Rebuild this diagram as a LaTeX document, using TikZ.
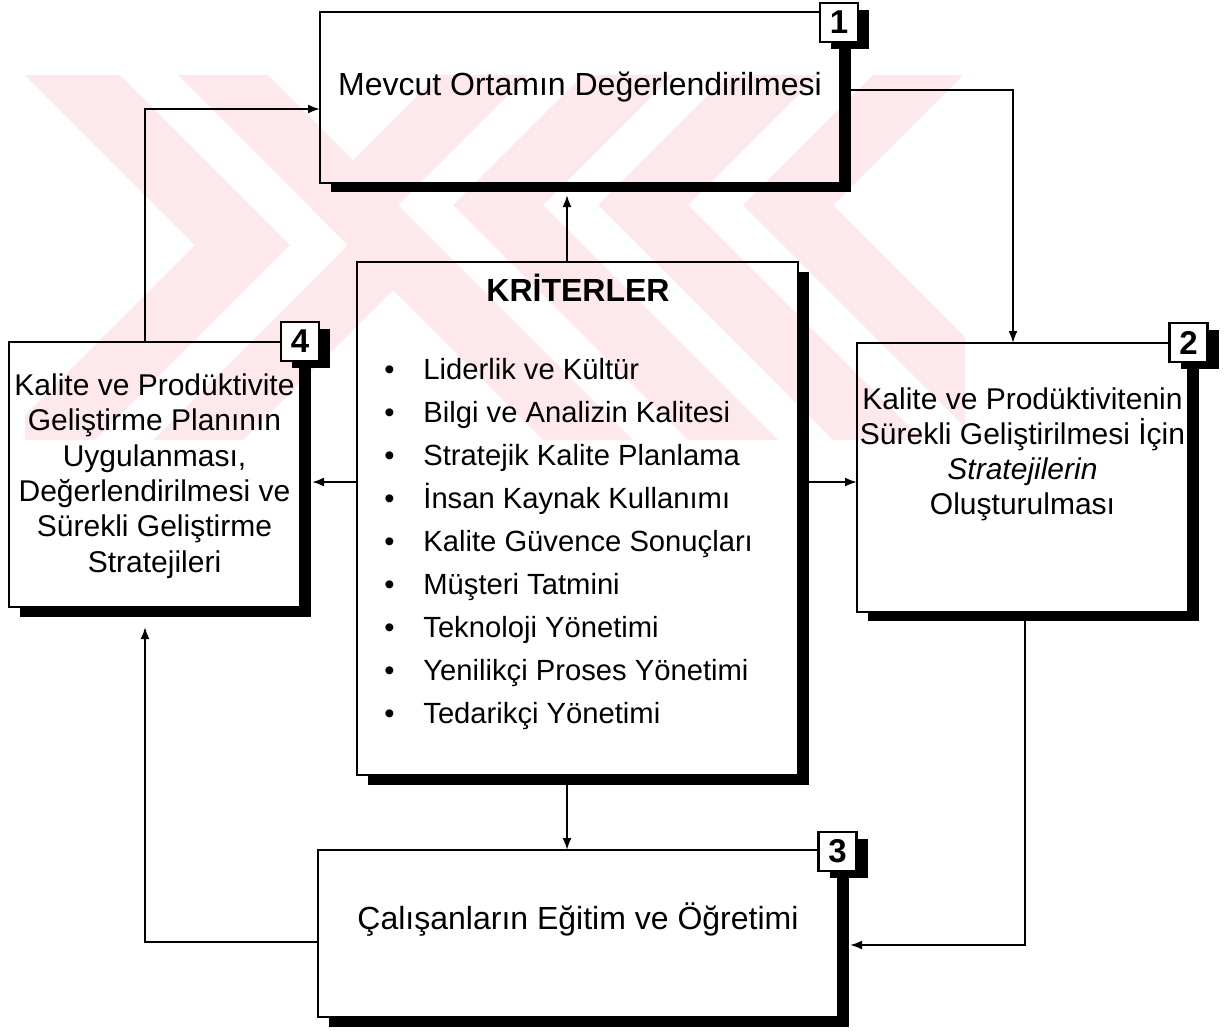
\documentclass[tikz,border=0pt]{standalone}
\usepackage{fontspec}
\setmainfont{Liberation Sans}
\usetikzlibrary{arrows.meta,calc}
\definecolor{wm}{RGB}{253,232,236}

% L-shaped drop shadow along the right and bottom sides of a node
\newcommand\dropshadow[3]{%
  \fill[black] ($(#1.north east)+(0,-#3)$) rectangle ($(#1.south east)+(#2,-#3)$);
  \fill[black] ($(#1.south west)+(#2,0)$) rectangle ($(#1.south east)+(#2,-#3)$);
}

\begin{document}
\begin{tikzpicture}[x=0.5pt, y=-0.5pt,
  box/.style={draw, line width=1.2pt, inner sep=0pt, outer sep=0pt},
  numbox/.style={draw, fill=white, line width=1.2pt, inner sep=0pt, outer sep=0pt,
    minimum width=19pt, minimum height=19.5pt,
    font=\bfseries\fontsize{16.5}{16.5}\selectfont},
  link/.style={line width=1pt, -{Latex[length=6pt,width=4.5pt]}},
  caption/.style={inner sep=0pt, align=center, font=\fontsize{15}{17.7}\selectfont},
  item/.style={inner sep=0pt, anchor=base west, font=\fontsize{14.6}{17}\selectfont}]

\useasboundingbox (0,0) rectangle (1232,1030);

% background emblem: nested chevrons
\begin{scope}
  \clip (25,75) rectangle (965,440);
  \fill[wm] (25,75) -- (120,75) -- (290,245) -- (95,440) -- (0,440) -- (195,245) -- cycle;
  \fill[wm] (178,75) -- (268,75) -- (438,245) -- (243,440) -- (153,440) -- (348,245) -- cycle;
  \fill[wm] (963,75) -- (873,75) -- (743,205) -- (978,440) -- (1068,440) -- (833,205) -- cycle;
  \fill[wm] (818,75) -- (728,75) -- (598,205) -- (833,440) -- (923,440) -- (688,205) -- cycle;
  \fill[wm] (673,75) -- (583,75) -- (453,205) -- (688,440) -- (778,440) -- (543,205) -- cycle;
  \fill[wm] (528,75) -- (438,75) -- (308,205) -- (543,440) -- (633,440) -- (398,205) -- cycle;
\end{scope}

% main boxes
\node[box, minimum width=260pt,   minimum height=85.5pt]  (b1)   at (580,97.5)    {};
\node[box, minimum width=145.5pt, minimum height=132.5pt] (b4)   at (154.5,474.5) {};
\node[box, minimum width=165.5pt, minimum height=134.5pt] (b2)   at (1022.5,477.5) {};
\node[box, minimum width=220.5pt, minimum height=256.5pt] (crit) at (577.5,518.5) {};
\node[box, minimum width=260pt,   minimum height=83.5pt]  (b3)   at (578,933.5)   {};

\dropshadow{b1}{5.5pt}{4.5pt}
\dropshadow{b4}{5.5pt}{5pt}
\dropshadow{b2}{5.5pt}{4.5pt}
\dropshadow{crit}{5.5pt}{5pt}
\dropshadow{b3}{5.5pt}{5pt}

% step numbers
\node[numbox] (n1) at (839,22.5)    {1};
\node[numbox] (n2) at (1188.5,342.5) {2};
\node[numbox] (n3) at (837.5,851.5)  {3};
\node[numbox] (n4) at (300,341.5)   {4};
\dropshadow{n1}{5.5pt}{3.5pt}
\dropshadow{n2}{5.5pt}{3.5pt}
\dropshadow{n3}{5.5pt}{3.5pt}
\dropshadow{n4}{5.5pt}{3.5pt}

% routing coordinates
\coordinate (mx) at (567,0);
\coordinate (ly) at (0,482);
\coordinate (ty) at (0,90);
\coordinate (rx) at (1013,0);
\coordinate (rx2) at (1025,0);
\coordinate (by) at (0,945);
\coordinate (lx) at (145,0);
\coordinate (ly2) at (0,109);
\coordinate (bl) at (0,942);

% connectors
\draw[link] (crit.north -| mx) -- ($(b1.south -| mx)+(0,-6pt)$);
\draw[link] (crit.west |- ly) -- ($(b4.east |- ly)+(6pt,0)$);
\draw[link] ($(crit.east |- ly)+(5.5pt,0)$) -- (b2.west |- ly);
\draw[link] ($(crit.south -| mx)+(0,-5pt)$) -- (b3.north -| mx);
\draw[link] ($(b1.east |- ty)+(5.5pt,0)$) -| (b2.north -| rx);
\draw[link] ($(b2.south -| rx2)+(0,-4.5pt)$) |- ($(b3.east |- by)+(6pt,0)$);
\draw[link] (b3.west |- bl) -| ($(b4.south -| lx)+(0,-10pt)$);
\draw[link] (b4.north -| lx) |- (b1.west |- ly2);

% texts
\node[caption, font=\fontsize{16}{19}\selectfont, anchor=base] (t1) at (580,95)
  {Mevcut Ortamın Değerlendirilmesi};
\node[caption] (t4) at (154.5,476)
  {Kalite ve Prodüktivite\\Geliştirme Planının\\Uygulanması,\\Değerlendirilmesi ve\\Sürekli Geliştirme\\Stratejileri};
\node[caption, font=\fontsize{15}{17.5}\selectfont] (t2) at (1022.5,454)
  {Kalite ve Prodüktivitenin\\Sürekli Geliştirilmesi İçin\\\textit{Stratejilerin}\\Oluşturulması};
\node[caption, font=\fontsize{16}{19}\selectfont, anchor=base] (t3) at (578,929)
  {Çalışanların Eğitim ve Öğretimi};
\node[inner sep=0pt, anchor=base, font=\bfseries\fontsize{16}{19}\selectfont] (kt) at (578,301.5)
  {KRİTERLER};

\foreach \t [count=\i from 0] in {Liderlik ve Kültür, Bilgi ve Analizin Kalitesi,
    Stratejik Kalite Planlama, İnsan Kaynak Kullanımı, Kalite Güvence Sonuçları,
    Müşteri Tatmini, Teknoloji Yönetimi, Yenilikçi Proses Yönetimi, Tedarikçi Yönetimi}
  \node[item] (l\i) at (384,{379+43*\i}) {\makebox[19.5pt][l]{•}\t};

\end{tikzpicture}
\end{document}
